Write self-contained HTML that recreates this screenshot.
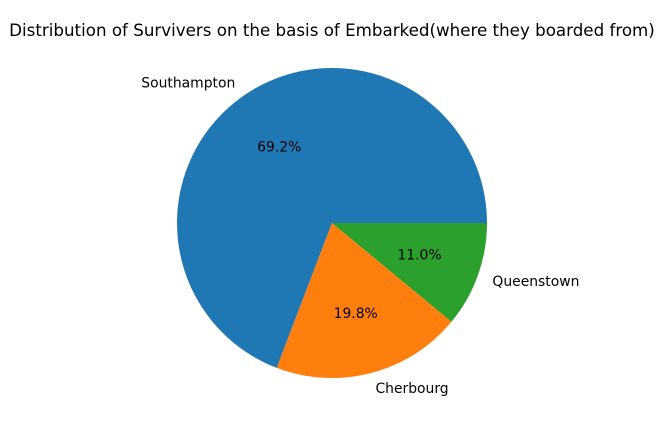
<!DOCTYPE html>
<html><head><meta charset="utf-8"><style>
html,body{margin:0;padding:0;background:#fff;}
svg{display:block;font-family:"DejaVu Sans","Liberation Sans",sans-serif;}
</style></head><body>
<svg id="chart" width="665" height="427" viewBox="0 0 665 427">
<text x="332" y="36" text-anchor="middle" font-size="16.7" fill="#000">Distribution of Survivers on the basis of Embarked(where they boarded from)</text>
<g id="slices"></g>
</svg>
<script>
const categories = ["Southampton", "Cherbourg", "Queenstown"];
const values = [69.2, 19.8, 11.0];
const colors = ["#1f77b4", "#ff7f0e", "#2ca02c"];
const cx = 332, cy = 223, r = 155;
const g = document.getElementById('slices');
const ns = 'http://www.w3.org/2000/svg';
const total = values.reduce((a, b) => a + b, 0);
function pt(deg, rad) {
  const a = deg * Math.PI / 180;
  return [cx + rad * Math.cos(a), cy - rad * Math.sin(a)];
}
let start = 0;
values.forEach((v, i) => {
  const sweep = v / total * 360;
  const end = start + sweep;
  const p1 = pt(start, r), p2 = pt(end, r);
  const large = sweep > 180 ? 1 : 0;
  const path = document.createElementNS(ns, 'path');
  path.setAttribute('d', `M${cx},${cy} L${p1[0]},${p1[1]} A${r},${r} 0 ${large} 0 ${p2[0]},${p2[1]} Z`);
  path.setAttribute('fill', colors[i]);
  
  
  g.appendChild(path);
  const mid = start + sweep / 2;
  const lp = pt(mid, r * 1.1);
  const cosm = Math.cos(mid * Math.PI / 180);
  const lab = document.createElementNS(ns, 'text');
  lab.setAttribute('x', lp[0]);
  lab.setAttribute('y', lp[1] + 5);
  lab.setAttribute('font-size', '13.9');
  lab.setAttribute('text-anchor', cosm >= 0 ? 'start' : 'end');
  lab.textContent = categories[i];
  
  
  g.appendChild(lab);
  const pp = pt(mid, r * 0.6);
  const pc = document.createElementNS(ns, 'text');
  pc.setAttribute('x', pp[0]);
  pc.setAttribute('y', pp[1] + 5);
  pc.setAttribute('font-size', '13.9');
  pc.setAttribute('text-anchor', 'middle');
  pc.textContent = (v / total * 100).toFixed(1) + '%';
  
  
  g.appendChild(pc);
  start = end;
});
</script>
</body></html>
